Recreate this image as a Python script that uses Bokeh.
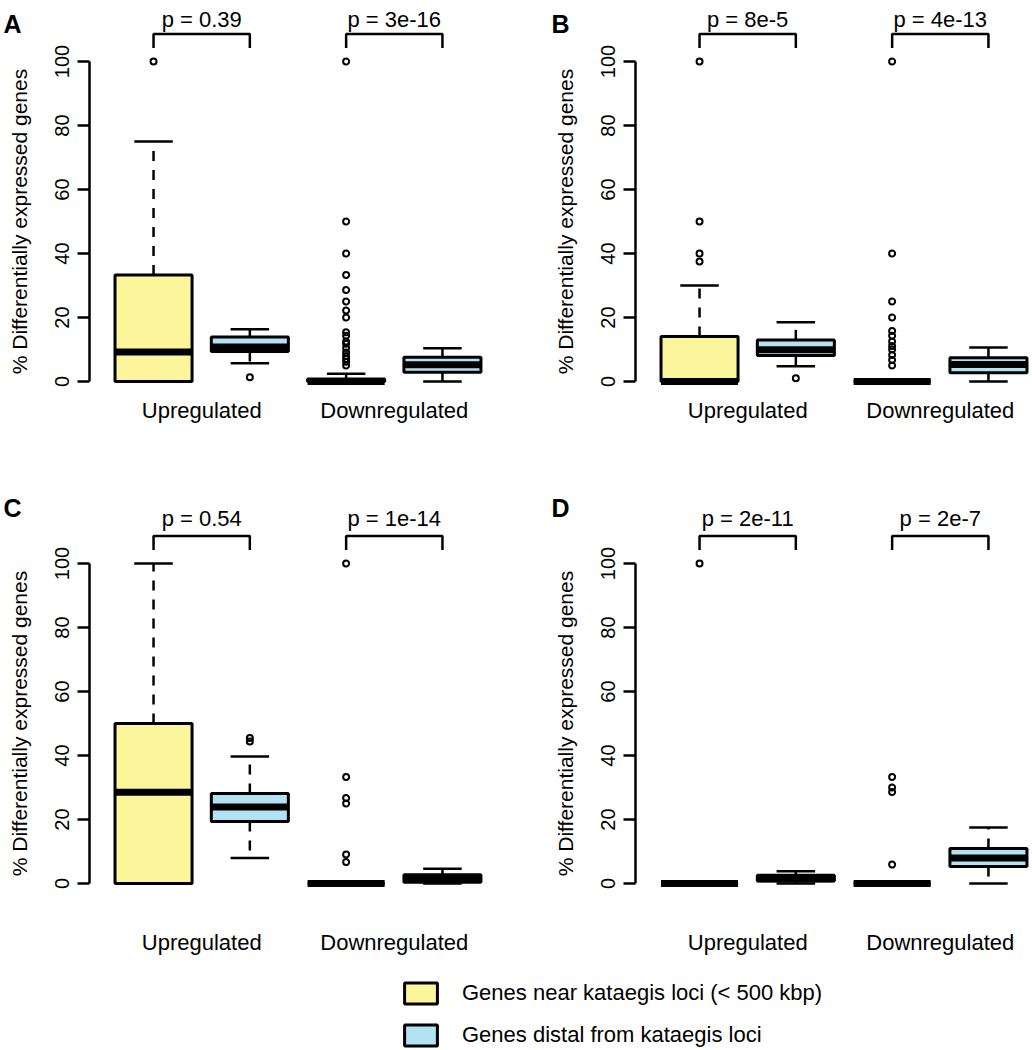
import math
from bokeh.plotting import figure
from bokeh.models import Range1d, FixedTicker, Legend, LegendItem
from bokeh.layouts import column, row
from bokeh.embed import file_html
from bokeh.resources import INLINE
from bokeh.core.properties import value

# ---------------- data ----------------
groups = ["Upregulated", "Downregulated"]
series_names = ["Genes near kataegis loci (< 500 kbp)", "Genes distal from kataegis loci"]
positions = [1, 2, 3, 4]          # near-up, distal-up, near-down, distal-down
y_ticks = [0, 20, 40, 60, 80, 100]
y_label = "% Differentially expressed genes"
panel_letters = ["A", "B", "C", "D"]

A_lower = [0, 5.7, 0, 0]
A_q1 = [0, 9.4, 0, 2.9]
A_median = [9.2, 10.8, 0, 5.2]
A_q3 = [33.3, 13.9, 0.8, 7.6]
A_upper = [75, 16.3, 2.4, 10.4]
A_outliers = [[100], [1.3],
              [100, 50, 40, 33.3, 28.6, 25, 22.2, 20, 15.4, 14.3, 12.5, 11.8,
               10.5, 9.1, 8.0, 7.1, 6.2, 5.0],
              []]
A_pvalues = ["p = 0.39", "p = 3e-16"]

B_lower = [0, 4.8, 0, 0]
B_q1 = [0, 8.1, 0, 2.7]
B_median = [0, 9.9, 0, 5.3]
B_q3 = [14.1, 13.0, 0, 7.4]
B_upper = [30, 18.5, 0, 10.6]
B_outliers = [[100, 50, 40, 37.5], [1.0],
              [100, 40, 25, 20, 15.8, 14.3, 12.5, 11.1, 10, 8.3, 6.7, 5.0],
              []]
B_pvalues = ["p = 8e-5", "p = 4e-13"]

C_lower = [0, 8.0, 0, 0]
C_q1 = [0, 19.4, 0, 0.4]
C_median = [28.5, 23.9, 0, 1.6]
C_q3 = [50, 28.1, 0, 2.7]
C_upper = [100, 39.7, 0, 4.6]
C_outliers = [[], [44.4, 45.5], [100, 33.3, 26.7, 25, 9.1, 6.7], []]
C_pvalues = ["p = 0.54", "p = 1e-14"]

D_lower = [0, 0, 0, 0]
D_q1 = [0, 0.8, 0, 5.3]
D_median = [0, 1.5, 0, 8.0]
D_q3 = [0, 2.6, 0, 10.9]
D_upper = [0, 3.8, 0, 17.5]
D_outliers = [[100], [], [33.3, 30, 28.6, 5.9], []]
D_pvalues = ["p = 2e-11", "p = 2e-7"]

# ---------------- style / layout ----------------
FONT = "Liberation Sans"
FS_H = "22px"     # horizontal texts
FS_TICK = "20px"
FS_TITLE = "21px"
YELLOW = "#FBF69B"
BLUE = "#B2E2F3"
INK = "#000000"
UNIT_X = 96.3        # px per box position
UNIT_Y = 3.2         # px per percent
X0 = 0.335
BOX_HALF = 0.4
CAP_HALF = 0.2
BRACKET_TOP = 108.6
BRACKET_BOT = 104.2

ROW_H = [488, 470]
ZERO_Y = [381, 395]          # pixel row of value 0 inside each row
P_Y = [113.2, 114.0]
CAT_Y = [-9.06, -18.4]
LETTER_BASE = [23, 19]
TITLE_CY = [221, 235]
STRIP_W = [42, 42]
PANEL_W = [504, 442]
AXIS_GAP = [47, 47]
LETTER_X = [3, 5]
TITLE_CX = 19


def make_strip(letter, width, height, letter_x, letter_base, title_cy):
    s = figure(width=width, height=height,
               x_range=Range1d(0, width), y_range=Range1d(height, 0),
               output_backend="svg", toolbar_location=None,
               x_axis_location=None, y_axis_location=None, min_border=0)
    s.outline_line_color = None
    s.xgrid.visible = False
    s.ygrid.visible = False
    s.text(x=[letter_x], y=[letter_base], text=[letter], text_font=value(FONT),
           text_font_size="25px", text_font_style="bold",
           text_align="left", text_baseline="alphabetic", text_color=INK)
    s.text(x=[TITLE_CX], y=[title_cy], text=[y_label], text_font=value(FONT),
           text_font_size=FS_TITLE, text_align="center",
           text_baseline="middle", angle=math.pi / 2, text_color=INK)
    return s


def make_panel(lower, q1, med, q3, upper, outliers, pvals,
               width, left_border, height, zero_y, p_y, cat_y):
    frame_w = width - left_border
    x1 = X0 + frame_w / UNIT_X
    y_top = zero_y / UNIT_Y
    y_bot = (zero_y - height) / UNIT_Y
    p = figure(width=width, height=height,
               x_range=Range1d(X0, x1), y_range=Range1d(y_bot, y_top),
               output_backend="svg", toolbar_location=None,
               x_axis_location=None,
               min_border_left=left_border, min_border_right=0,
               min_border_top=0, min_border_bottom=0)
    p.xgrid.visible = False
    p.ygrid.visible = False
    p.outline_line_color = None
    p.background_fill_color = "white"
    p.border_fill_color = "white"

    ax = p.yaxis[0]
    ax.ticker = FixedTicker(ticks=y_ticks)
    ax.bounds = (y_ticks[0], y_ticks[-1])
    ax.major_label_orientation = "vertical"
    ax.axis_line_width = 2.5
    ax.axis_line_color = INK
    ax.major_tick_line_width = 2.5
    ax.major_tick_line_color = INK
    ax.major_tick_out = 12
    ax.major_tick_in = 0
    ax.minor_tick_line_color = None
    ax.major_label_text_font = FONT
    ax.major_label_text_font_size = FS_TICK
    ax.major_label_text_color = INK
    ax.major_label_standoff = 9

    colors = [YELLOW, BLUE, YELLOW, BLUE]
    left = [x - BOX_HALF for x in positions]
    right = [x + BOX_HALF for x in positions]
    cl = [x - CAP_HALF for x in positions]
    cr = [x + CAP_HALF for x in positions]

    # whiskers (dashed)
    p.segment(x0=positions, x1=positions, y0=q3, y1=upper,
              line_color=INK, line_width=2.5, line_dash="10 9")
    p.segment(x0=positions, x1=positions, y0=q1, y1=lower,
              line_color=INK, line_width=2.5, line_dash="10 9")
    # caps
    p.segment(x0=cl, x1=cr, y0=upper, y1=upper, line_color=INK, line_width=2.5)
    p.segment(x0=cl, x1=cr, y0=lower, y1=lower, line_color=INK, line_width=2.5)
    # boxes
    p.quad(left=left, right=right, bottom=q1, top=q3,
           fill_color=colors, line_color=INK, line_width=3)
    # medians
    p.segment(x0=left, x1=right, y0=med, y1=med, line_color=INK, line_width=7)
    # outliers
    ox, oy = [], []
    for x, vals in zip(positions, outliers):
        ox += [x] * len(vals)
        oy += vals
    p.scatter(x=ox, y=oy, marker="circle", size=6, fill_color=None,
              line_color=INK, line_width=2)

    # significance brackets
    bxs, bys, tx = [], [], []
    for g in range(2):
        a, b = positions[2 * g], positions[2 * g + 1]
        bxs.append([a, a, b, b])
        bys.append([BRACKET_BOT, BRACKET_TOP, BRACKET_TOP, BRACKET_BOT])
        tx.append((a + b) / 2)
    p.multi_line(xs=bxs, ys=bys, line_color=INK, line_width=2.5)
    p.text(x=tx, y=[p_y] * 2, text=pvals, text_font=value(FONT),
           text_font_size=FS_H, text_align="center", text_baseline="middle",
           text_color=INK)
    # category labels
    p.text(x=tx, y=[cat_y] * 2, text=groups, text_font=value(FONT),
           text_font_size=FS_H, text_align="center", text_baseline="middle",
           text_color=INK)
    return p


stats = [
    (A_lower, A_q1, A_median, A_q3, A_upper, A_outliers, A_pvalues),
    (B_lower, B_q1, B_median, B_q3, B_upper, B_outliers, B_pvalues),
    (C_lower, C_q1, C_median, C_q3, C_upper, C_outliers, C_pvalues),
    (D_lower, D_q1, D_median, D_q3, D_upper, D_outliers, D_pvalues),
]

rows = []
for r in range(2):
    children = []
    for c in range(2):
        k = 2 * r + c
        children.append(make_strip(panel_letters[k], STRIP_W[c], ROW_H[r],
                                   LETTER_X[c], LETTER_BASE[r], TITLE_CY[r]))
        children.append(make_panel(*stats[k], PANEL_W[c], AXIS_GAP[c], ROW_H[r],
                                   ZERO_Y[r], P_Y[r], CAT_Y[r]))
    rows.append(row(*children))

# legend strip
LEG_H = 1050 - sum(ROW_H)
lf = figure(width=1030, height=LEG_H, x_range=Range1d(0, 1), y_range=Range1d(0, 1),
            output_backend="svg", toolbar_location=None,
            x_axis_location=None, y_axis_location=None, min_border=0)
lf.outline_line_color = None
lf.xgrid.visible = False
lf.ygrid.visible = False
# invisible carriers (outside the visible range) for the legend swatches
r_near = lf.quad(left=[5], right=[6], bottom=[5], top=[6], fill_color=YELLOW,
                 line_color=INK, line_width=3)
r_dist = lf.quad(left=[5], right=[6], bottom=[5], top=[6], fill_color=BLUE,
                 line_color=INK, line_width=3)
legend = Legend(items=[LegendItem(label=series_names[0], renderers=[r_near]),
                       LegendItem(label=series_names[1], renderers=[r_dist])],
                location=(400, 2), glyph_width=41, glyph_height=26, spacing=16,
                padding=0, margin=0, label_standoff=21,
                border_line_color=None, background_fill_alpha=0,
                label_text_font=FONT, label_text_font_size=FS_H,
                label_text_color=INK)
lf.add_layout(legend)

layout = column(rows[0], rows[1], lf)
open("out.html", "w").write(file_html(layout, INLINE))
